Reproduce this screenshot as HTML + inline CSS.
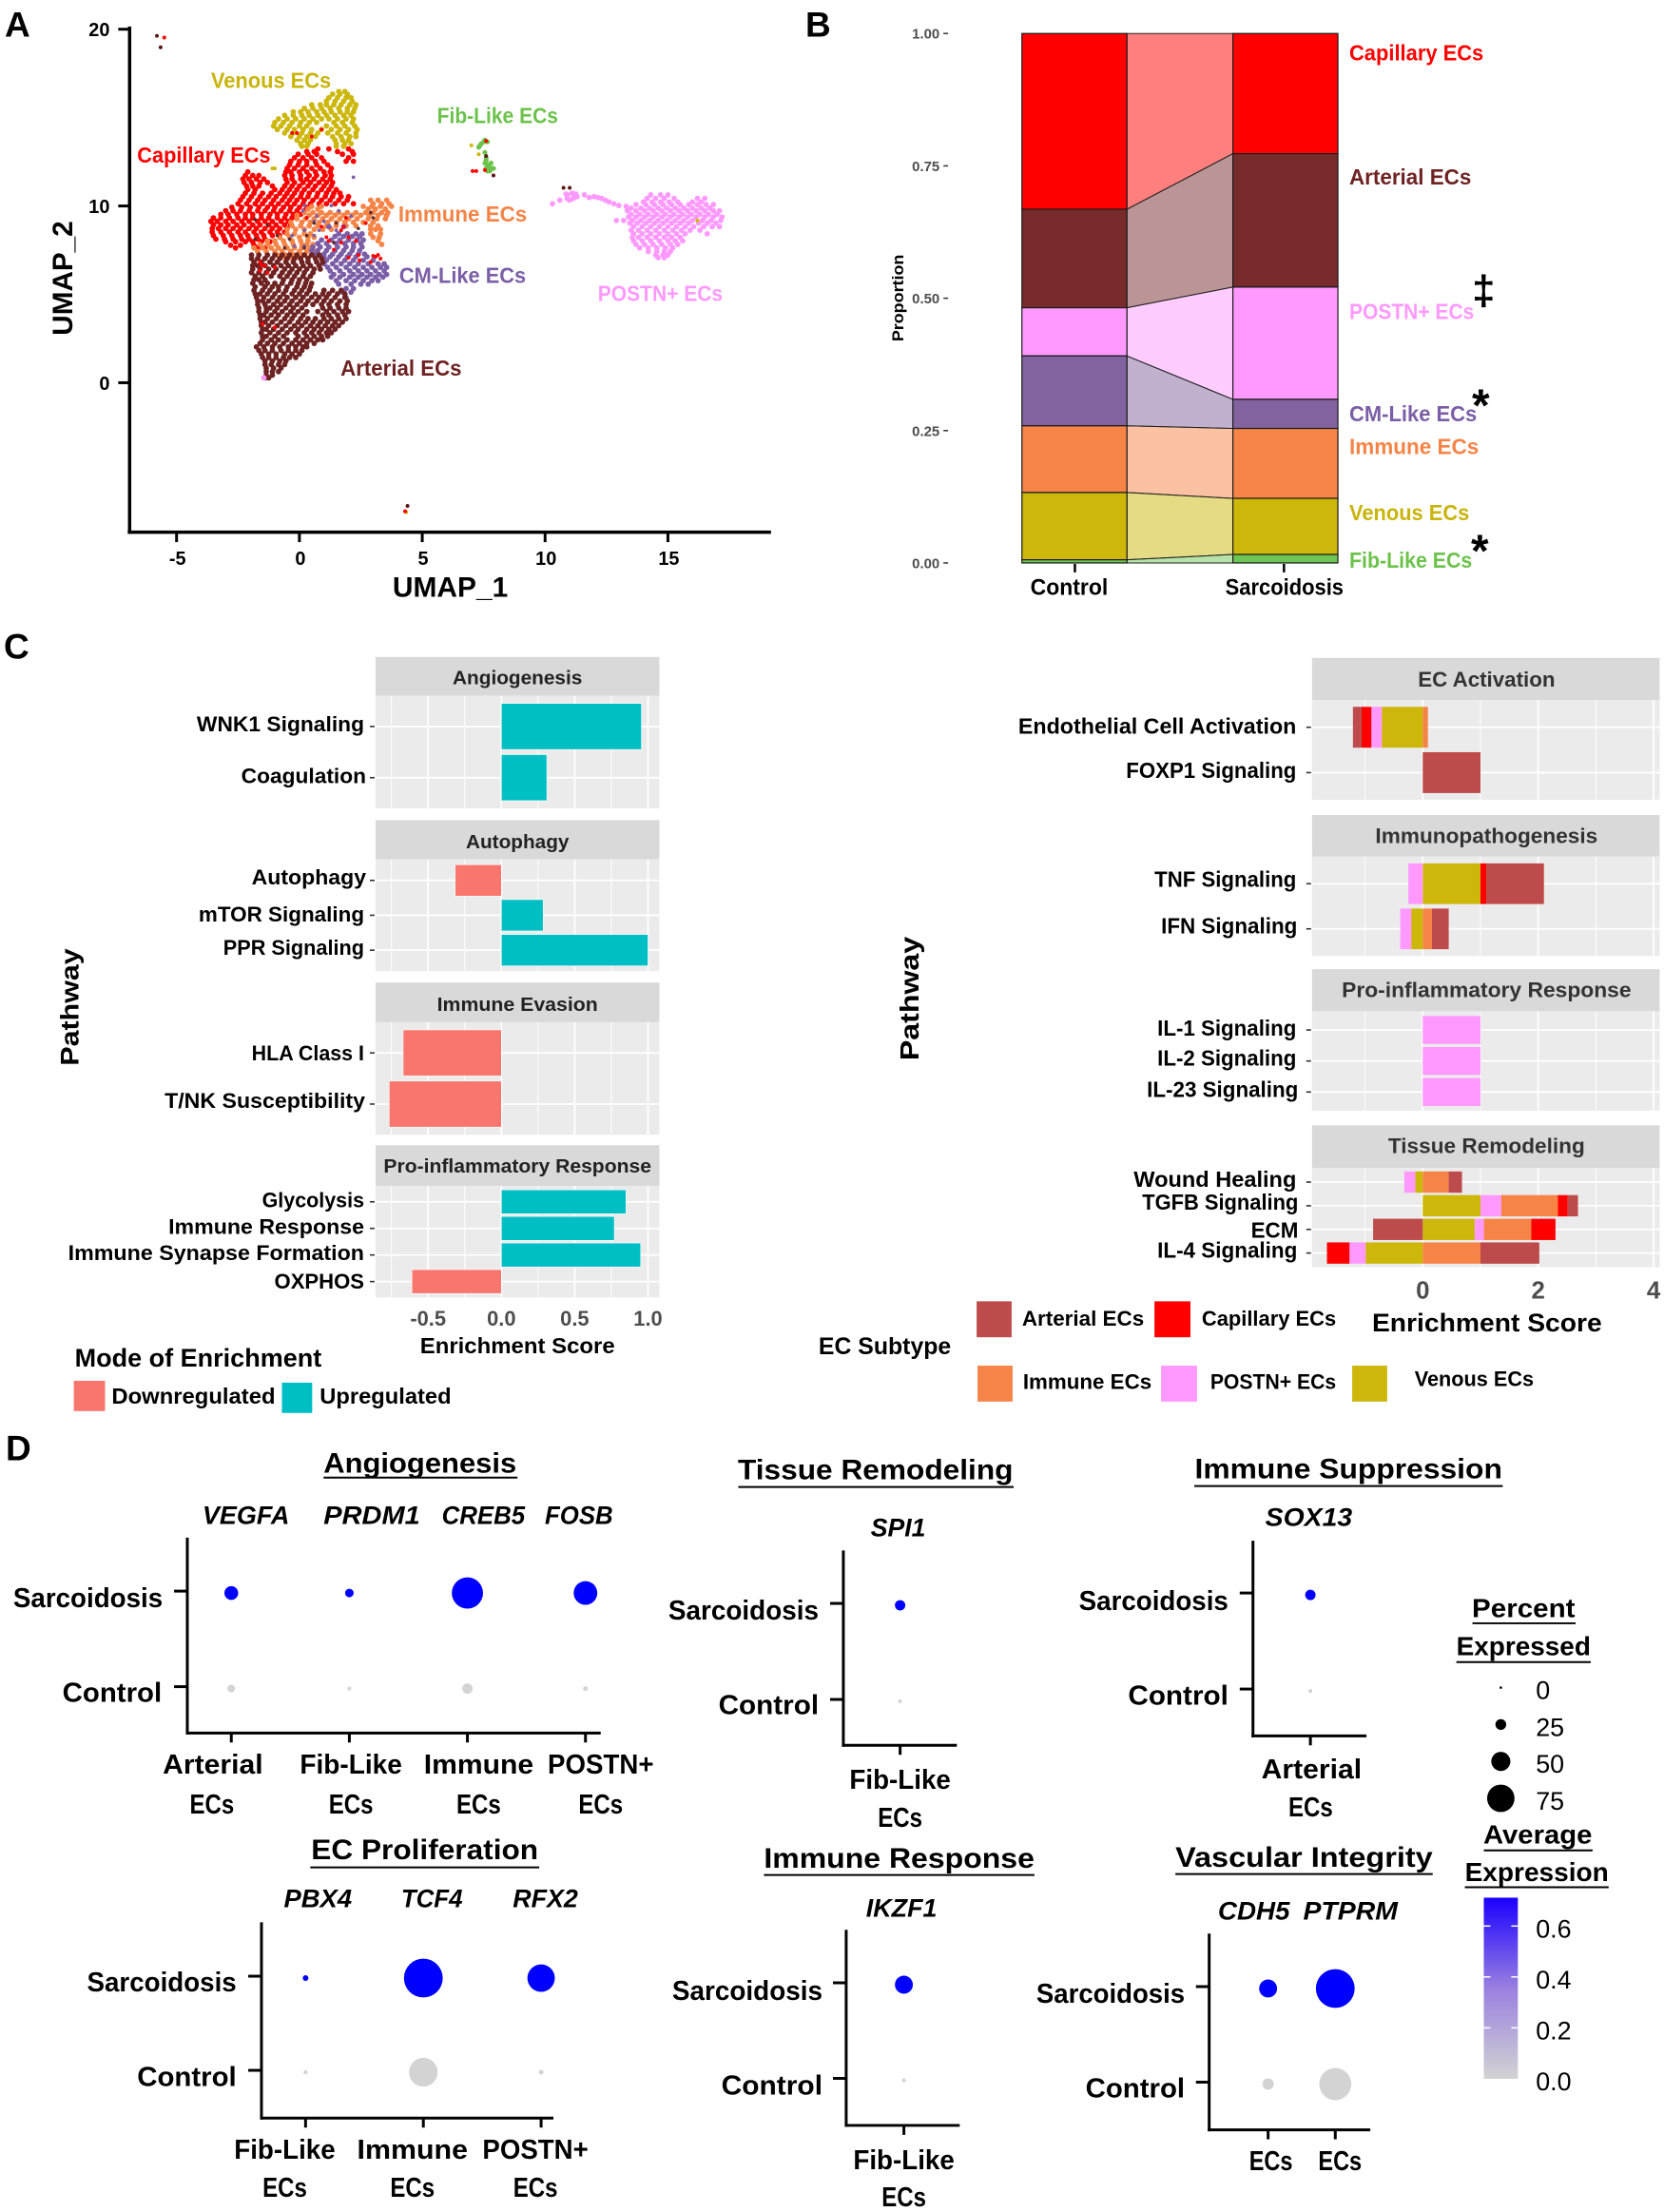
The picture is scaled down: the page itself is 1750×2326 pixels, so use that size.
<!DOCTYPE html>
<html lang="en">
<head>
<meta charset="utf-8">
<title>Endothelial cell subtype figure</title>
<style>
html,body{margin:0;padding:0;background:#fff}
svg{display:block}
text{font-family:"Liberation Sans",sans-serif;dominant-baseline:central;fill:#000}
.b{font-weight:700}
.i{font-weight:700;font-style:italic}
</style>
</head>
<body>
<svg id="figure" xmlns="http://www.w3.org/2000/svg" width="1750" height="2326" viewBox="0 0 1750 2326">
<defs>
<linearGradient id="expr-gradient" x1="0" y1="0" x2="0" y2="1"><stop offset="0" stop-color="#1a00ff"/><stop offset="0.5" stop-color="#9a80e0"/><stop offset="1" stop-color="#d3d3d3"/></linearGradient>
</defs>

<!-- Panel letters -->
<text class="b" x="5" y="26" font-size="37">A</text>
<text class="b" x="847" y="26" font-size="37">B</text>
<text class="b" x="4" y="680" font-size="37">C</text>
<text class="b" x="6" y="1523" font-size="37">D</text>

<!-- Panel A -->
<g id="panel-a" transform="scale(.9949)">
<g id="umap-marks"></g>
<text class="b" x="415" y="621" font-size="30" textLength="122">UMAP_1</text>
<text class="b" x="67" y="294" font-size="30" text-anchor="middle" textLength="121" transform="rotate(-90 67 294)">UMAP_2</text>
<text class="b" x="223" y="85" font-size="23" textLength="127" style="fill:#c9b40b">Venous ECs</text>
<text class="b" x="462" y="122" font-size="23" textLength="128" style="fill:#6cc24a">Fib-Like ECs</text>
<text class="b" x="145" y="164" font-size="23" textLength="141" style="fill:#ff0000">Capillary ECs</text>
<text class="b" x="421" y="226" font-size="23" textLength="136" style="fill:#f58446">Immune ECs</text>
<text class="b" x="422" y="291" font-size="23" textLength="134" style="fill:#7b5ea7">CM-Like ECs</text>
<text class="b" x="632" y="310" font-size="23" textLength="132" style="fill:#ff99ff">POSTN+ ECs</text>
<text class="b" x="360" y="389" font-size="23" textLength="128" style="fill:#6e2222">Arterial ECs</text>
</g>

<!-- Panel B -->
<g id="panel-b" transform="translate(830 0) scale(.9949) translate(-830 0)">
<g id="alluvial-marks"></g>
<text class="b" x="945" y="315" font-size="17" text-anchor="middle" textLength="92" transform="rotate(-90 945 315)">Proportion</text>
<text class="b" x="1085" y="621" font-size="24" textLength="82">Control</text>
<text class="b" x="1291" y="621" font-size="24" textLength="125">Sarcoidosis</text>
<text class="b" x="1422" y="56" font-size="23" textLength="142" style="fill:#ff0000">Capillary ECs</text>
<text class="b" x="1422" y="187" font-size="23" textLength="129" style="fill:#6e2222">Arterial ECs</text>
<text class="b" x="1422" y="329" font-size="23" textLength="132" style="fill:#ff99ff">POSTN+ ECs</text>
<text class="b" x="1422" y="437" font-size="23" textLength="135" style="fill:#7b5ea7">CM-Like ECs</text>
<text class="b" x="1422" y="472" font-size="23" textLength="137" style="fill:#f58446">Immune ECs</text>
<text class="b" x="1422" y="542" font-size="23" textLength="127" style="fill:#c9b40b">Venous ECs</text>
<text class="b" x="1422" y="592" font-size="23" textLength="130" style="fill:#6cc24a">Fib-Like ECs</text>
<text class="b" x="1564" y="307" font-size="44" text-anchor="middle">‡</text>
<text class="b" x="1561" y="429" font-size="48" text-anchor="middle">*</text>
<text class="b" x="1560" y="583" font-size="48" text-anchor="middle">*</text>
</g>

<!-- Panel C left -->
<g id="panel-c-left" transform="translate(0 660) scale(.9949) translate(0 -660)">
<g id="enrich-left-marks"></g>
<text class="b" x="74" y="1061" font-size="27" text-anchor="middle" textLength="124" transform="rotate(-90 74 1061)">Pathway</text>
<text class="b" x="547" y="714" font-size="20" text-anchor="middle" textLength="137" style="fill:#222">Angiogenesis</text>
<text class="b" x="547" y="887" font-size="20" text-anchor="middle" textLength="109" style="fill:#222">Autophagy</text>
<text class="b" x="547" y="1059" font-size="20" text-anchor="middle" textLength="170" style="fill:#222">Immune Evasion</text>
<text class="b" x="547" y="1230" font-size="20" text-anchor="middle" textLength="283" style="fill:#222">Pro-inflammatory Response</text>
<text class="b" x="385" y="762" font-size="22" text-anchor="end" textLength="177">WNK1 Signaling</text>
<text class="b" x="387" y="817" font-size="22" text-anchor="end" textLength="132">Coagulation</text>
<text class="b" x="387" y="924" font-size="22" text-anchor="end" textLength="121">Autophagy</text>
<text class="b" x="385" y="963" font-size="22" text-anchor="end" textLength="175">mTOR Signaling</text>
<text class="b" x="385" y="998" font-size="22" text-anchor="end" textLength="149">PPR Signaling</text>
<text class="b" x="385" y="1110" font-size="22" text-anchor="end" textLength="119">HLA Class I</text>
<text class="b" x="386" y="1160" font-size="22" text-anchor="end" textLength="212">T/NK Susceptibility</text>
<text class="b" x="385" y="1265" font-size="22" text-anchor="end" textLength="108">Glycolysis</text>
<text class="b" x="385" y="1293" font-size="22" text-anchor="end" textLength="207">Immune Response</text>
<text class="b" x="385" y="1321" font-size="22" text-anchor="end" textLength="313">Immune Synapse Formation</text>
<text class="b" x="385" y="1351" font-size="22" text-anchor="end" textLength="95">OXPHOS</text>
<text class="b" x="444" y="1419" font-size="23" textLength="206">Enrichment Score</text>
<text class="b" x="79" y="1432" font-size="27" textLength="261">Mode of Enrichment</text>
<rect x="78" y="1456" width="33" height="32" fill="#f8766d"/>
<text class="b" x="118" y="1472" font-size="23" textLength="173">Downregulated</text>
<rect x="298" y="1458" width="32" height="32" fill="#00bfc4"/>
<text class="b" x="338" y="1472" font-size="23" textLength="139">Upregulated</text>
</g>

<!-- Panel C right -->
<g id="panel-c-right" transform="translate(850 660) scale(.9949) translate(-850 -660)">
<g id="enrich-right-marks"></g>
<text class="b" x="957" y="1052" font-size="28" text-anchor="middle" textLength="131" transform="rotate(-90 957 1052)">Pathway</text>
<text class="b" x="1567" y="715" font-size="22" text-anchor="middle" textLength="145" style="fill:#333">EC Activation</text>
<text class="b" x="1567" y="880" font-size="22" text-anchor="middle" textLength="235" style="fill:#333">Immunopathogenesis</text>
<text class="b" x="1567" y="1043" font-size="22" text-anchor="middle" textLength="306" style="fill:#333">Pro-inflammatory Response</text>
<text class="b" x="1567" y="1208" font-size="22" text-anchor="middle" textLength="208" style="fill:#333">Tissue Remodeling</text>
<text class="b" x="1366" y="764" font-size="23" text-anchor="end" textLength="294">Endothelial Cell Activation</text>
<text class="b" x="1366" y="811" font-size="23" text-anchor="end" textLength="180">FOXP1 Signaling</text>
<text class="b" x="1366" y="926" font-size="23" text-anchor="end" textLength="150">TNF Signaling</text>
<text class="b" x="1367" y="975" font-size="23" text-anchor="end" textLength="144">IFN Signaling</text>
<text class="b" x="1366" y="1083" font-size="23" text-anchor="end" textLength="147">IL-1 Signaling</text>
<text class="b" x="1366" y="1115" font-size="23" text-anchor="end" textLength="147">IL-2 Signaling</text>
<text class="b" x="1368" y="1148" font-size="23" text-anchor="end" textLength="160">IL-23 Signaling</text>
<text class="b" x="1366" y="1243" font-size="23" text-anchor="end" textLength="172">Wound Healing</text>
<text class="b" x="1368" y="1267" font-size="23" text-anchor="end" textLength="165">TGFB Signaling</text>
<text class="b" x="1368" y="1297" font-size="23" text-anchor="end" textLength="50">ECM</text>
<text class="b" x="1367" y="1318" font-size="23" text-anchor="end" textLength="148">IL-4 Signaling</text>
<text class="b" x="1446" y="1395" font-size="27" textLength="243">Enrichment Score</text>
<text class="b" x="861" y="1420" font-size="25" textLength="140">EC Subtype</text>
<rect x="1028" y="1372" width="37" height="38" fill="#bd4b4b"/>
<text class="b" x="1076" y="1390" font-size="22" textLength="129">Arterial ECs</text>
<rect x="1216" y="1372" width="38" height="38" fill="#ff0000"/>
<text class="b" x="1266" y="1390" font-size="22" textLength="142">Capillary ECs</text>
<rect x="1029" y="1440" width="37" height="38" fill="#f58446"/>
<text class="b" x="1077" y="1457" font-size="22" textLength="136">Immune ECs</text>
<rect x="1223" y="1440" width="38" height="38" fill="#ff99ff"/>
<text class="b" x="1275" y="1457" font-size="22" textLength="133">POSTN+ ECs</text>
<rect x="1425" y="1440" width="37" height="38" fill="#ccb70a"/>
<text class="b" x="1491" y="1454" font-size="22" textLength="126">Venous ECs</text>
</g>

<!-- Panel D left -->
<g id="panel-d-left" transform="translate(0 1500) scale(.9949) translate(0 -1500)">
<g id="dot-marks-left"></g>
<text class="b" x="444" y="1539" font-size="30" text-anchor="middle" textLength="204">Angiogenesis</text>
<line x1="342" x2="547" y1="1554" y2="1554" stroke="#000" stroke-width="2"/>
<text class="b" x="449" y="1948" font-size="30" text-anchor="middle" textLength="240">EC Proliferation</text>
<line x1="328" x2="570" y1="1966" y2="1966" stroke="#000" stroke-width="2"/>
<text class="i" x="214" y="1594" font-size="27" textLength="92">VEGFA</text>
<text class="i" x="342" y="1594" font-size="27" textLength="102">PRDM1</text>
<text class="i" x="467" y="1594" font-size="27" textLength="88">CREB5</text>
<text class="i" x="576" y="1594" font-size="27" textLength="72">FOSB</text>
<text class="i" x="300" y="1999" font-size="27" textLength="72">PBX4</text>
<text class="i" x="424" y="1999" font-size="27" textLength="65">TCF4</text>
<text class="i" x="542" y="1999" font-size="27" textLength="69">RFX2</text>
<text class="b" x="172" y="1682" font-size="29" text-anchor="end" textLength="158">Sarcoidosis</text>
<text class="b" x="171" y="1782" font-size="29" text-anchor="end" textLength="105">Control</text>
<text class="b" x="250" y="2088" font-size="29" text-anchor="end" textLength="158">Sarcoidosis</text>
<text class="b" x="250" y="2188" font-size="29" text-anchor="end" textLength="105">Control</text>
<text class="b" x="225" y="1858" font-size="29" text-anchor="middle" textLength="106">Arterial</text>
<text class="b" x="224" y="1900" font-size="29" text-anchor="middle" textLength="47">ECs</text>
<text class="b" x="371" y="1858" font-size="29" text-anchor="middle" textLength="108">Fib-Like</text>
<text class="b" x="371" y="1900" font-size="29" text-anchor="middle" textLength="47">ECs</text>
<text class="b" x="506" y="1858" font-size="29" text-anchor="middle" textLength="116">Immune</text>
<text class="b" x="506" y="1900" font-size="29" text-anchor="middle" textLength="47">ECs</text>
<text class="b" x="635" y="1858" font-size="29" text-anchor="middle" textLength="112">POSTN+</text>
<text class="b" x="635" y="1900" font-size="29" text-anchor="middle" textLength="47">ECs</text>
<text class="b" x="301" y="2265" font-size="29" text-anchor="middle" textLength="107">Fib-Like</text>
<text class="b" x="301" y="2305" font-size="29" text-anchor="middle" textLength="47">ECs</text>
<text class="b" x="436" y="2265" font-size="29" text-anchor="middle" textLength="117">Immune</text>
<text class="b" x="436" y="2305" font-size="29" text-anchor="middle" textLength="47">ECs</text>
<text class="b" x="566" y="2265" font-size="29" text-anchor="middle" textLength="112">POSTN+</text>
<text class="b" x="566" y="2305" font-size="29" text-anchor="middle" textLength="47">ECs</text>
</g>

<!-- Panel D right -->
<g id="panel-d-right" transform="translate(680 1500) scale(.9949) translate(-680 -1500)">
<g id="dot-marks-right"></g>
<text class="b" x="922" y="1546" font-size="30" text-anchor="middle" textLength="291">Tissue Remodeling</text>
<line x1="777" x2="1068" y1="1564" y2="1564" stroke="#000" stroke-width="2"/>
<text class="b" x="1422" y="1545" font-size="30" text-anchor="middle" textLength="325">Immune Suppression</text>
<line x1="1259" x2="1585" y1="1563" y2="1563" stroke="#000" stroke-width="2"/>
<text class="b" x="947" y="1957" font-size="30" text-anchor="middle" textLength="286">Immune Response</text>
<line x1="804" x2="1090" y1="1974" y2="1974" stroke="#000" stroke-width="2"/>
<text class="b" x="1375" y="1956" font-size="30" text-anchor="middle" textLength="272">Vascular Integrity</text>
<line x1="1239" x2="1511" y1="1973" y2="1973" stroke="#000" stroke-width="2"/>
<text class="i" x="917" y="1607" font-size="27" textLength="58">SPI1</text>
<text class="i" x="1334" y="1596" font-size="27" textLength="92">SOX13</text>
<text class="i" x="912" y="2009" font-size="27" textLength="75">IKZF1</text>
<text class="i" x="1284" y="2012" font-size="27" textLength="76">CDH5</text>
<text class="i" x="1374" y="2012" font-size="27" textLength="100">PTPRM</text>
<text class="b" x="862" y="1695" font-size="29" text-anchor="end" textLength="159">Sarcoidosis</text>
<text class="b" x="862" y="1795" font-size="29" text-anchor="end" textLength="106">Control</text>
<text class="b" x="1295" y="1685" font-size="29" text-anchor="end" textLength="158">Sarcoidosis</text>
<text class="b" x="1295" y="1785" font-size="29" text-anchor="end" textLength="106">Control</text>
<text class="b" x="866" y="2097" font-size="29" text-anchor="end" textLength="159">Sarcoidosis</text>
<text class="b" x="866" y="2197" font-size="29" text-anchor="end" textLength="107">Control</text>
<text class="b" x="1249" y="2100" font-size="29" text-anchor="end" textLength="157">Sarcoidosis</text>
<text class="b" x="1249" y="2200" font-size="29" text-anchor="end" textLength="105">Control</text>
<text class="b" x="948" y="1874" font-size="29" text-anchor="middle" textLength="107">Fib-Like</text>
<text class="b" x="948" y="1914" font-size="29" text-anchor="middle" textLength="47">ECs</text>
<text class="b" x="1383" y="1863" font-size="29" text-anchor="middle" textLength="106">Arterial</text>
<text class="b" x="1382" y="1903" font-size="29" text-anchor="middle" textLength="47">ECs</text>
<text class="b" x="952" y="2276" font-size="29" text-anchor="middle" textLength="107">Fib-Like</text>
<text class="b" x="952" y="2315" font-size="29" text-anchor="middle" textLength="47">ECs</text>
<text class="b" x="1340" y="2277" font-size="29" text-anchor="middle" textLength="46">ECs</text>
<text class="b" x="1413" y="2277" font-size="29" text-anchor="middle" textLength="46">ECs</text>
<text class="b" x="1607" y="1692" font-size="28" text-anchor="middle" textLength="109">Percent</text>
<line x1="1553" x2="1662" y1="1708" y2="1708" stroke="#000" stroke-width="2"/>
<text class="b" x="1607" y="1732" font-size="28" text-anchor="middle" textLength="142">Expressed</text>
<line x1="1536" x2="1678" y1="1749" y2="1749" stroke="#000" stroke-width="2"/>
<text class="b" x="1622" y="1931" font-size="28" text-anchor="middle" textLength="115">Average</text>
<line x1="1565" x2="1680" y1="1948" y2="1948" stroke="#000" stroke-width="2"/>
<text class="b" x="1621" y="1971" font-size="28" text-anchor="middle" textLength="152">Expression</text>
<line x1="1545" x2="1697" y1="1987" y2="1987" stroke="#000" stroke-width="2"/>
<rect x="1565" y="1998" width="36" height="191.5" fill="url(#expr-gradient)"/>
<g id="legend-marks"></g>
</g>
</svg>

<script>
/* ---------- Panel A: UMAP cell positions (rows: y, then x values) ---------- */
const umapXTicks = [-5, 0, 5, 10, 15];
const umapYTicks = [0, 10, 20];
const capillaryRows = [
[13.2,.75,1.2,2.0],[13.05,.3,.6,1.55,2.15],[12.9,-.05,.35,.7,1.75,2.2],[12.7,-.2,.15,.5,.9,2.0],[12.5,-.35,0,.3,.65,1.0,1.9,2.2],[12.3,-.4,-.05,.3,.7,1.15],[12.1,-.5,-.2,.15,.5,.85,1.3],
[11.9,-2.1,-.55,-.35,0,.3,.65,1.0,1.25],[11.7,-2.2,-1.9,-1.65,-.6,-.3,.05,.4,.7,1.05,1.3],[11.5,-2.3,-2.05,-1.75,-1.45,-.55,-.3,.05,.3,.6,.95,1.25],[11.3,-2.25,-1.95,-1.6,-1.3,-.5,-.2,.15,.45,.8,1.1,1.35],
[11.1,-2.15,-1.9,-1.65,-1.1,-.6,-.3,0,.35,.65,1.0,1.3],[10.9,-2.1,-1.8,-1.0,-.7,-.4,-.1,.2,.55,.9,1.2,1.5],[10.7,-2.2,-1.85,-1.5,-1.15,-.8,-.5,-.2,.1,.4,.75,1.1,1.4,1.65],[10.5,-2.3,-1.95,-1.6,-1.25,-.95,-.6,-.3,.05,.35,.7,1.05,1.35,1.7,2.0],
[10.3,-2.4,-2.05,-1.7,-1.4,-1.05,-.7,-.4,-.1,.2,.55,.9,1.25,1.6,1.95],[10.1,-2.5,-2.15,-1.8,-1.5,-1.15,-.85,-.5,-.2,.15,.45,.8,1.1,1.45,1.8,2.2],[9.9,-2.75,-2.35,-2.0,-1.65,-1.3,-1,-.65,-.35,0,.3],[9.7,-3.0,-2.7,-2.4,-2.05,-1.7,-1.4,-1.05,-.75,-.4,-.1,.2],
[9.5,-3.2,-2.9,-2.55,-2.2,-1.9,-1.55,-1.2,-.9,-.55,-.25,.05],[9.3,-3.5,-3.2,-2.85,-2.5,-2.2,-1.9,-1.55,-1.25,-.9,-.6,-.3],[9.1,-3.6,-3.35,-3.0,-2.7,-2.35,-2.05,-1.7,-1.4,-1.1,-.75,-.45],[8.9,-3.5,-3.2,-2.9,-2.55,-2.25,-1.9,-1.6,-1.25,-.95,-.6,-.35],
[8.7,-3.55,-3.3,-3.0,-2.7,-2.4,-2.05,-1.75,-1.4,-1.1,-.8,-.5],[8.5,-3.55,-3.2,-2.85,-2.5,-2.2,-1.85,-1.55,-1.2,-.9,-.6],[8.3,-3.5,-3.1,-2.75,-2.4,-2.1,-1.75,-1.45,-1.1,-.8],[8.1,-3.4,-3.05,-2.7,-2.35,-2.05,-1.7,-1.4],[7.95,-3.0,-2.6,-2.2,-1.9,-1.55,-1.2],[7.75,-2.8,-2.4,-1.85],[7.6,-2.6,-1.7,-1.4]
];
const immuneRows = [
[10.3,2.9,3.2,3.55],[10.1,3.0,3.35,3.65],[9.95,.5,.9,2.6,2.95,3.3,3.75],[9.8,.35,.75,2.8,3.1,3.5],[9.6,.2,.55,.9,1.25,1.6,1.95,2.3,2.7,3.0,3.35,3.6],[9.45,-.1,.4,.75,1.1,1.45,1.8,2.15,2.5,2.85,3.2,3.55],
[9.25,-.1,.25,.6,.95,1.3,1.65,2.0,2.35,2.8,3.15,3.5],[9.05,-.35,.1,.45,.8,1.15,1.5,1.85,2.2,2.6,3.0],[8.85,-.3,.05,.4,.75,1.1,1.5,1.9,2.3,2.9,3.2],[8.65,-.5,-.15,.2,.6,.95,1.3,2.9,3.1,3.3],
[8.4,-.5,-.2,.2,.45,2.9,3.3],[8.2,-.8,-.4,0,.35,.6,3.0,3.25],[8.0,-1.3,-1.0,-.65,-.3,.05,.35,3.2],[7.8,-1.6,-1.3,-.95,-.6,-.25,.1,.3,.55,3.35],[7.6,-1.85,-1.5,-1.15,-.85,-.5,-.2,.1,.4],[7.4,-1.7,-1.35,-1.0,-.7,-.35,0,.3,.6],[7.2,-.9,-.55,-.2,.15,.5],[7.05,-.6,-.35,0,.35]
];
const cmLikeRows = [
[8.8,1.2,1.8],[8.4,1.6,1.95,2.3,2.55],[8.25,1.45,1.8,2.15,2.45],[8.05,.9,1.3,1.65,2.0,2.35,2.6],[7.85,.75,1.1,1.5,1.85,2.2,2.5],[7.65,.55,.85,1.2,1.55,1.9,2.2,2.55],[7.45,.5,.75,1.1,1.45,1.8,2.15,2.45],
[7.25,.6,1.0,1.35,1.7,2.05,2.4,2.65],[7.1,1.0,1.25,1.6,1.95,2.3,2.75],[6.9,1.1,1.5,1.85,2.2,2.6,3.0],[6.7,1.0,1.35,1.7,2.05,2.4,2.8,3.2,3.45],[6.5,1.15,1.5,1.9,2.25,2.6,2.95,3.3,3.55],[6.3,1.25,1.65,2.05,2.4,2.75,3.1,3.45],
[6.1,1.4,1.8,2.2,2.55,2.9,3.25,3.55],[5.95,1.3,1.65,2.05,2.4,2.75,3.1,3.4],[5.75,1.5,1.9,2.25,2.6,2.95,3.2],[5.55,1.6,2.1,2.5,2.8],[5.3,1.9,2.2],[5.1,1.75,2.1],[4.8,1.9]
];
const cmLikeSpeckRows = [[10.0,.2,1.3],[9.7,.15,1.6],[9.4,2.1,.7],[9.1,.6,1.0],[8.6,.2,.8,1.5],[8.3,-.3,.6],[7.7,-.2,.2],[11.6,2.2]];
const arterialRows = [
[7.2,-1.95,-1.65,-1.3,-1.0,-.7,-.4,-.1,.2,.5,.8],[7.0,-1.95,-1.7,-1.4,-1.1,-.8,-.5,-.2,.05,.35,.65,.9],[6.8,-1.85,-1.55,-1.2,-.9,-.55,-.25,.1,.35,.7,.95],[6.6,-1.9,-1.7,-1.4,-1.05,-.75,-.45,-.15,.15,.45,.8],[6.4,-1.9,-1.6,-1.25,-.95,-.6,-.3,0,.3,.6,.85],[6.2,-1.95,-1.65,-1.35,-1.05,-.7,-.4,-.1,.2,.55],
[6.0,-1.8,-1.5,-1.15,-.8,-.5,-.2,.15,.45],[5.8,-1.85,-1.65,-1.4,-.65,-.3,0,.3],[5.6,-1.9,-1.55,-1.3,-1.0,-.7,-.35,-.05,.25,.5],[5.4,-1.8,-1.4,-1.1,-.85,-.5,-.1,.2,.45],[5.2,-1.85,-1.5,-1.2,-.85,-.55,-.2,.1,.4,1.0,1.35,1.7],[5.0,-1.8,-1.6,-1.3,-1.0,-.65,-.3,0,.3,.65,.95,1.2,1.55,1.85],
[4.8,-1.75,-1.45,-1.1,-.8,-.5,-.15,.15,.5,.8,1.1,1.45,1.85],[4.6,-1.7,-1.5,-1.25,-.9,-.6,-.3,.05,.35,.7,1.0,1.3,1.65,1.95],[4.4,-1.7,-1.4,-1.05,-.75,-.4,-.1,.25,.55,.9,1.2,1.55,1.9],[4.2,-1.65,-1.35,-1.2,-.9,-.55,-.25,.1,.95,1.25,1.6,1.9],
[4.0,-1.65,-1.35,-1.0,-.7,-.35,-.05,.3,.75,1.1,1.4,1.75,2.0],[3.8,-1.6,-1.45,-1.15,-.85,-.5,-.2,.15,.95,1.2,1.55,1.85],[3.6,-1.6,-1.3,-.95,-.6,-.3,.05,.35,.65,1.0,1.3,1.6,1.9],[3.4,-1.55,-1.4,-1.1,-.75,-.4,-.05,.25,.55,.85,1.15,1.45,1.75],
[3.2,-1.55,-1.25,-.9,-.55,-.2,.1,.45,.75,1.05,1.35,1.6],[3.0,-1.5,-1.35,-1.05,-.7,-.35,-.05,.3,.6,.9,1.2,1.45],[2.8,-1.55,-1.2,-.85,-.5,-.15,.2,.5,.8,1.1,1.3],[2.6,-1.5,-1.35,-1.0,-.65,-.05,.3,.6,.9,1.15],[2.4,-1.5,-1.15,-.85,-.5,-.15,.15,.45,.75,.95],[2.2,-1.6,-1.3,-1.0,-.65,-.3,0,.3,.6],
[2.0,-1.75,-1.45,-1.1,-.8,-.45,-.15,.15,.3],[1.8,-1.65,-1.4,-1.1,-.75,-.45,-.15,.1],[1.6,-1.55,-1.25,-.95,-.6,-.3,0],[1.4,-1.5,-1.25,-.95,-.65,-.4,-.15],[1.2,-1.4,-1.1,-.8,-.55],[1.0,-1.4,-1.15,-.85,-.6],[.8,-1.35,-1.05,-.75],[.6,-1.35,-1.1,-.85],[.4,-1.35,-1.1],[.25,-1.4,-1.25]
];
const venousRows = [
[16.45,1.6,1.85],[16.3,1.35,1.65,1.95],[16.1,1.2,1.55,1.9,2.1],[15.9,1.1,1.45,1.8,2.15],[15.7,.5,.85,1.1,1.4,1.7,2.05,2.3],[15.5,.2,.55,.9,1.25,1.6,1.95,2.25],[15.3,-.25,.05,.35,.7,1.0,1.3,1.65,1.95,2.2],[15.1,-.6,-.25,.1,.4,.75,1.1,1.45,1.8,2.1],
[14.9,-.85,-.5,-.15,.2,.55,.9,1.2,1.55,1.9,2.2],[14.7,-1.0,-.65,-.3,.05,.4,.7,1.4,1.75,2.15],[14.5,-1.05,-.75,-.4,0,.3,1.1,1.5,1.85,2.25],[14.3,-.9,-.5,-.2,.15,.5,.9,1.3,1.65,2.0,2.35],[14.1,-.6,-.25,.1,.45,.75,1.15,1.55,1.9,2.3],[13.9,-.35,0,.3,.65,1.35,1.7,2.05,2.3],[13.7,-.1,.2,.45,1.45,1.75,2.0],[13.5,.05,.35,1.5,1.85,2.1],[13.35,.1,.3,1.5,1.8]
];
const venousStrayRows = [[13.4,7.0],[12.9,7.3],[12.1,-1.0,-1.1],[-7.35,4.35],[9.15,16.2]];
const postnRows = [
[10.7,11.1],[10.65,10.85,11.25],[10.6,10.9,11.6,14.3,14.7,15.0],[10.5,11.3,12.0],[10.45,11.8,12.15],[10.4,12.3,10.9,11.15,14.15,14.5,14.85,15.25,16.2,16.5],[10.3,10.6,11.0,12.45],[10.2,12.6,14.0,14.35,14.7,15.05,15.4,16.0,16.35],[10.1,10.3,12.8],[10.05,13.7,14.1,14.45,14.8,15.15,15.5,15.85,16.2,16.55,16.85],[10.0,13.0],[9.95,13.3],
[9.85,13.5,13.9,14.25,14.6,14.95,15.3,15.65,16.0,16.35,16.7],[9.7,13.35,13.7,14.05,14.4,14.75,15.1,15.45,15.8,16.15,16.5,16.85,17.1],[9.5,13.5,13.85,14.2,14.55,14.9,15.25,15.6,15.95,16.3,16.65,17.0],[9.35,13.4,13.7,14.05,14.4,14.75,15.1,15.45,15.8,16.15,16.5,16.85,17.2],
[9.15,12.9,13.2,13.55,13.9,14.25,14.6,14.95,15.3,15.65,16.0,16.4,16.75,17.15],[9.0,13.45,13.75,14.1,14.45,14.8,15.15,15.5,15.85,16.25,16.6,16.95],[8.8,13.6,13.95,14.3,14.65,15.0,15.35,15.7,16.05,16.45,16.8,17.1],[8.6,13.5,13.8,14.15,14.5,14.85,15.2,15.55,15.9,16.3],
[8.4,13.6,13.95,14.3,14.65,15.0,15.35,15.7,16.6],[8.2,13.55,13.8,14.15,14.5,14.85,15.15,15.5],[8.0,13.6,13.95,14.3,14.65,15.0,15.3,15.6],[7.8,13.7,14.05,14.4,14.75,15.1,15.4],[7.6,13.85,14.2,14.55,14.9,15.2],[7.4,14.2,14.55,14.85,15.1],[7.2,14.5,14.8,15.0],[7.05,14.6,14.85],[.25,-1.45]
];
const fibLikeRows = [[13.7,7.55],[13.6,7.5,7.65],[13.5,7.4],[13.4,7.35],[13.3,7.3],[13.0,7.55],[12.7,7.6],[12.55,7.6],[12.4,7.55,7.8],[12.3,7.65],[12.2,7.7],[12.1,7.6,7.85,7.9],[11.95,7.65,7.75]];
const capillaryStrayRows = [[19.5,-5.5],[14.3,.9],[14.1,-.3,-.1],[13.9,.5],[13.65,7.6],[12.0,7.55],[11.95,7.05,7.2],[9.0,2.7],[8.6,1.7],[8.2,1.1,2.0],[8.0,1.2,2.3],[7.9,1.7],[7.5,1.4],[7.2,2.4,3.2],[7.15,3.0],[7.1,3.1],[7.05,2.0],[7.0,3.3],[6.9,2.45],[6.8,2.9,-1.6],[6.6,-1.55,-1.4],[6.5,-1.0],[6.3,-1.6],[6.2,-1.3],[3.3,-1.5],[3.1,-1.0],[9.3,.3,1.9],[8.8,.9,1.8],[-7.3,4.3]];
const arterialStrayRows = [[19.6,-5.8],[18.95,-5.65],[12.8,7.6],[11.7,7.9],[11.0,10.75,11.0],[-7.0,4.4]];
const arterialSpeckRows = [[9.6,2.9],[9.3,3.0],[9.0,.6,1.5],[8.7,2.4],[8.3,-.9,.3],[8.1,-1.8,-.4],[7.6,-.6,.2],[7.9,1.4],[8.9,-1.3],[9.2,-1.8]];

/* ---------- Panel B: stacked proportions, top to bottom ---------- */
const alluvialSubtypes = ["Capillary ECs","Arterial ECs","POSTN+ ECs","CM-Like ECs","Immune ECs","Venous ECs","Fib-Like ECs"];
const controlProportions = [.332,.186,.091,.132,.126,.127,.006];
const sarcoidosisProportions = [.227,.252,.212,.055,.132,.106,.016];
const proportionTicks = [0,.25,.5,.75,1];

/* ---------- Panel C left: enrichment score by mode ---------- */
const leftScoreTicks = [-.5,0,.5,1];
const leftMinorTicks = [-.75,-.25,.25,.75];
const angiogenesisScores = [.955,.31];
const autophagyScores = [-.315,.285,1.0];
const immuneEvasionScores = [-.67,-.765];
const proInflammatoryScores = [.85,.77,.95,-.61];

/* ---------- Panel C right: enrichment score by subtype ---------- */
const rightScoreTicks = [0,2,4];
const rightMinorTicks = [-1,1,3];
const venousScores =    [-.71,0,1,-.2,0,0,0,-.13,1,.9,-.99];
const postnScores =     [-.18,0,-.25,-.19,1,1,1,-.19,.36,.16,-.28];
const immuneScores =    [.09,0,0,.16,0,0,0,.45,.98,.82,1];
const capillaryScores = [-.17,0,.1,0,0,0,0,0,.17,.42,-.39];
const arterialScores =  [-.15,1,1,.29,0,0,0,.23,.18,-.86,1.02];

/* ---------- Panel D: percent expressed per gene ---------- */
const groupExpression = [0.7, 0];
const angiogenesisSarcoidosisPercent = [31.5,17.5,77.5,57.5];
const angiogenesisControlPercent = [15,5,22.5,7.5];
const proliferationSarcoidosisPercent = [10,97.5,67.5];
const proliferationControlPercent = [6,71,7.5];
const tissueSarcoidosisPercent = [22.5];
const tissueControlPercent = [5];
const suppressionSarcoidosisPercent = [22.5];
const suppressionControlPercent = [5];
const responseSarcoidosisPercent = [42.5];
const responseControlPercent = [5];
const vascularSarcoidosisPercent = [42.5,97.5];
const vascularControlPercent = [25,80];
const percentLegendValues = [0,25,50,75];
const expressionTicks = [0,.2,.4,.6];

/* ---------- helpers ---------- */
const NS = "http://www.w3.org/2000/svg";
function mk(parent, tag, attrs, txt) {
  const el = document.createElementNS(NS, tag);
  for (const k in attrs) el.setAttribute(k, attrs[k]);
  if (txt !== undefined) el.textContent = txt;
  parent.appendChild(el);
  return el;
}
document.querySelectorAll("text[textLength]").forEach(function (t) { t.setAttribute("lengthAdjust", "spacingAndGlyphs"); });

/* ---------- Panel A ---------- */
(function () {
  const g = document.getElementById("umap-marks");
  const X = function (v) { return 316.5 + 25.97 * v; };
  const Y = function (v) { return 404 - 18.68 * v; };
  function cloud(rows, color, name, r) {
    rows.forEach(function (row) {
      row.slice(1).forEach(function (x) {
        const el = mk(g, "circle", { cx: X(x), cy: Y(row[0]), r: r, fill: color });
        
        
      });
    });
  }
  cloud(capillaryRows, "#ff0000", "capillary-cell", 2.9);
  cloud(immuneRows, "#f58446", "immune-cell", 2.9);
  cloud(cmLikeRows, "#7b5ea7", "cm-like-cell", 2.9);
  cloud(cmLikeSpeckRows, "#7b5ea7", "cm-like-speck", 1.9);
  cloud(arterialRows, "#6e2222", "arterial-cell", 2.9);
  cloud(venousRows, "#ccb70a", "venous-cell", 2.9);
  cloud(postnRows, "#ff99ff", "postn-cell", 2.9);
  cloud(fibLikeRows, "#6cc24a", "fib-like-cell", 2.6);
  cloud(venousStrayRows, "#ccb70a", "venous-stray-cell", 2);
  cloud(capillaryStrayRows, "#ff0000", "capillary-stray-cell", 2);
  cloud(arterialStrayRows, "#5a1414", "arterial-stray-cell", 2);
  cloud(arterialSpeckRows, "#5a2a2a", "arterial-speck", 1.8);

  const yAxis = mk(g, "line", { x1: 137, x2: 137, y1: 28, y2: 564, stroke: "#000", "stroke-width": 3.5 });
  
  
  const xAxis = mk(g, "line", { x1: 135, x2: 815, y1: 562.5, y2: 562.5, stroke: "#000", "stroke-width": 3.5 });
  
  
  umapYTicks.forEach(function (v) {
    const t = mk(g, "line", { x1: 125, x2: 137, y1: Y(v) + .5, y2: Y(v) + .5, stroke: "#000", "stroke-width": 3 });
    
    
    const l = mk(g, "text", { x: 116, y: Y(v) + 2, "text-anchor": "end", "font-size": 20, "class": "b" }, String(v));
    
    
  });
  umapXTicks.forEach(function (v) {
    const t = mk(g, "line", { x1: X(v), x2: X(v), y1: 562, y2: 573, stroke: "#000", "stroke-width": 3 });
    
    
    const l = mk(g, "text", { x: X(v) + 1, y: 591, "text-anchor": "middle", "font-size": 20, "class": "b" }, String(v));
    
    
  });
})();

/* ---------- Panel B ---------- */
(function () {
  const g = document.getElementById("alluvial-marks");
  const colors = ["#ff0000","#772b2b","#ff99ff","#8263a0","#f58446","#ccb70a","#6dc554"];
  const Y = function (v) { return 595 - 559.6 * v; };
  const L = [1076, 1187], R = [1299, 1410];
  let topC = controlProportions.reduce(function (a, b) { return a + b; }, 0);
  let topS = sarcoidosisProportions.reduce(function (a, b) { return a + b; }, 0);
  alluvialSubtypes.forEach(function (name, i) {
    const botC = topC - controlProportions[i], botS = topS - sarcoidosisProportions[i];
    const flow = mk(g, "polygon", { points: [L[1], Y(topC), R[0], Y(topS), R[0], Y(botS), L[1], Y(botC)].join(" "), fill: colors[i], "fill-opacity": .5, stroke: "#222", "stroke-width": 1 });
    
    
    const a = mk(g, "rect", { x: L[0], y: Y(topC), width: L[1] - L[0], height: Y(botC) - Y(topC), fill: colors[i], stroke: "#1a1a1a", "stroke-width": 1.2 });
    
    
    const b = mk(g, "rect", { x: R[0], y: Y(topS), width: R[1] - R[0], height: Y(botS) - Y(topS), fill: colors[i], stroke: "#1a1a1a", "stroke-width": 1.2 });
    
    
    topC = botC; topS = botS;
  });
  proportionTicks.forEach(function (v) {
    const t = mk(g, "line", { x1: 993, x2: 998, y1: Y(v), y2: Y(v), stroke: "#333", "stroke-width": 1.5 });
    
    
    const l = mk(g, "text", { x: 989, y: Y(v) + 1, "text-anchor": "end", "font-size": 15, "class": "b", style: "fill:#4d4d4d" }, v.toFixed(2));
    
    
  });
  [1132, 1353].forEach(function (x) {
    const t = mk(g, "line", { x1: x, x2: x, y1: 596, y2: 605, stroke: "#000", "stroke-width": 2.5 });
    
    
  });
})();

/* ---------- Panel C shared facet drawing ---------- */
function facetFrame(g, left, right, stripTop, top, bottom, n, major, minor, X) {
  const strip = mk(g, "rect", { x: left, y: stripTop, width: right - left, height: top - stripTop, fill: "#d9d9d9" });
  
  
  const bg = mk(g, "rect", { x: left, y: top, width: right - left, height: bottom - top, fill: "#ebebeb" });
  
  
  minor.forEach(function (v) {
    const l = mk(g, "line", { x1: X(v), x2: X(v), y1: top, y2: bottom, stroke: "#fff", "stroke-width": 1 });
    
    
  });
  major.forEach(function (v) {
    const l = mk(g, "line", { x1: X(v), x2: X(v), y1: top, y2: bottom, stroke: "#fff", "stroke-width": 1.8 });
    
    
  });
  const unit = (bottom - top) / (n - 1 + 1.2);
  const band = function (i) { return top + (0.6 + i) * unit; };
  for (let i = 0; i < n; i++) {
    const l = mk(g, "line", { x1: left, x2: right, y1: band(i), y2: band(i), stroke: "#fff", "stroke-width": 1.8 });
    
    
    const t = mk(g, "line", { x1: left - 6, x2: left - 1, y1: band(i), y2: band(i), stroke: "#333", "stroke-width": 1.6 });
    
    
  }
  return { band: band, barH: unit * 0.9 };
}

/* ---------- Panel C left ---------- */
(function () {
  const g = document.getElementById("enrich-left-marks");
  const X = function (v) { return 530 + 155 * v; };
  function facet(stripTop, top, bottom, scores) {
    const f = facetFrame(g, 397, 697, stripTop, top, bottom, scores.length, leftScoreTicks, leftMinorTicks, X);
    scores.forEach(function (v, i) {
      const bar = mk(g, "rect", { x: Math.min(X(0), X(v)), y: f.band(i) - f.barH / 2, width: Math.abs(X(v) - X(0)), height: f.barH, fill: v < 0 ? "#f8766d" : "#00bfc4", stroke: "#fff", "stroke-width": .6 });
      
      
    });
  }
  facet(691, 732, 851, angiogenesisScores);
  facet(863.5, 905, 1023, autophagyScores);
  facet(1035, 1077, 1196, immuneEvasionScores);
  facet(1207, 1250, 1368, proInflammatoryScores);
  leftScoreTicks.forEach(function (v) {
    const l = mk(g, "text", { x: X(v), y: 1390, "text-anchor": "middle", "font-size": 22, "class": "b", style: "fill:#4d4d4d" }, v.toFixed(1));
    
    
  });
})();

/* ---------- Panel C right ---------- */
(function () {
  const g = document.getElementById("enrich-right-marks");
  const X = function (v) { return 1499.6 + 61 * v; };
  const stack = [
    { values: venousScores, color: "#ccb70a", name: "venous-segment" },
    { values: postnScores, color: "#ff99ff", name: "postn-segment" },
    { values: immuneScores, color: "#f58446", name: "immune-segment" },
    { values: capillaryScores, color: "#ff0000", name: "capillary-segment" },
    { values: arterialScores, color: "#bd4b4b", name: "arterial-segment" }
  ];
  function facet(stripTop, top, bottom, first, n) {
    const f = facetFrame(g, 1382.5, 1750, stripTop, top, bottom, n, rightScoreTicks, rightMinorTicks, X);
    for (let i = 0; i < n; i++) {
      let pos = 0, neg = 0;
      stack.forEach(function (s) {
        const v = s.values[first + i];
        if (!v) return;
        const a = v > 0 ? pos : neg;
        const b = a + v;
        if (v > 0) pos = b; else neg = b;
        const seg = mk(g, "rect", { x: Math.min(X(a), X(b)), y: f.band(i) - f.barH / 2, width: Math.abs(X(b) - X(a)), height: f.barH, fill: s.color });
        
        
      });
    }
  }
  facet(692, 736.5, 842, 0, 2);
  facet(858, 902, 1007, 2, 2);
  facet(1021, 1065.5, 1170.5, 4, 3);
  facet(1186, 1231, 1336, 7, 4);
  rightScoreTicks.forEach(function (v) {
    const l = mk(g, "text", { x: X(v), y: 1361, "text-anchor": "middle", "font-size": 26, "class": "b", style: "fill:#4d4d4d" }, String(v));
    
    
  });
})();

/* ---------- Panel D ---------- */
(function () {
  const gl = document.getElementById("dot-marks-left");
  const gr = document.getElementById("dot-marks-right");
  const radius = function (p) { return 1 + 0.2 * p; };
  const exprColor = function (e) {
    const t = e / 0.7;
    const c = function (a, b) { return Math.round(a + (b - a) * t); };
    return "rgb(" + c(211, 0) + "," + c(211, 0) + "," + c(211, 255) + ")";
  };
  function panel(g, left, right, top, bottom, xFirst, xStep, yFirst, yStep, sarcoidosis, control) {
    const X = function (i) { return xFirst + i * xStep; };
    const Y = function (i) { return yFirst + i * yStep; };
    const ya = mk(g, "line", { x1: left, x2: left, y1: top, y2: bottom + 1.5, stroke: "#000", "stroke-width": 3 });
    
    
    const xa = mk(g, "line", { x1: left - 1.5, x2: right, y1: bottom, y2: bottom, stroke: "#000", "stroke-width": 3 });
    
    
    [0, 1].forEach(function (i) {
      const t = mk(g, "line", { x1: left - 14, x2: left, y1: Y(i), y2: Y(i), stroke: "#000", "stroke-width": 3 });
      
      
    });
    sarcoidosis.forEach(function (p, i) {
      const t = mk(g, "line", { x1: X(i), x2: X(i), y1: bottom, y2: bottom + 10, stroke: "#000", "stroke-width": 3 });
      
      
      const s = mk(g, "circle", { cx: X(i), cy: Y(0) + 2, r: radius(p), fill: exprColor(groupExpression[0]) });
      
      
      const c = mk(g, "circle", { cx: X(i), cy: Y(1) + 2, r: radius(control[i]), fill: exprColor(groupExpression[1]) });
      
      
    });
  }
  panel(gl, 198, 635, 1617.5, 1824, 244.5, 124.8, 1674, 101, angiogenesisSarcoidosisPercent, angiogenesisControlPercent);
  panel(gl, 276.4, 585, 2024, 2231, 323, 124.5, 2081, 99.5, proliferationSarcoidosisPercent, proliferationControlPercent);
  panel(gr, 888, 1008, 1631, 1837, 948, 0, 1687, 101.5, tissueSarcoidosisPercent, tissueControlPercent);
  panel(gr, 1321, 1441, 1620.7, 1827, 1381.7, 0, 1676, 101.5, suppressionSarcoidosisPercent, suppressionControlPercent);
  panel(gr, 891, 1011, 2032, 2238.7, 952, 0, 2088, 101, responseSarcoidosisPercent, responseControlPercent);
  panel(gr, 1274.7, 1445, 2036, 2243.4, 1337, 71, 2092, 101, vascularSarcoidosisPercent, vascularControlPercent);

  /* Percent-expressed legend */
  const lg = document.getElementById("legend-marks");
  const legendR = function (p) { return 1.3 + 0.176 * p; };
  const legendY = function (i) { return 1776 + i * 39; };
  percentLegendValues.forEach(function (p, i) {
    const d = mk(lg, "circle", { cx: 1583, cy: legendY(i), r: legendR(p), fill: "#000" });
    
    
    const l = mk(lg, "text", { x: 1620, y: legendY(i) + 3, "font-size": 27 }, String(p));
    
    
  });

  /* Colorbar ticks */
  const CY = function (v) { return 2189.4 - 269 * v; };
  expressionTicks.forEach(function (v) {
    if (v > 0) {
      const a = mk(lg, "line", { x1: 1565, x2: 1572, y1: CY(v), y2: CY(v), stroke: "#fff", "stroke-width": 1.5 });
      
      
      const b = mk(lg, "line", { x1: 1594, x2: 1601, y1: CY(v), y2: CY(v), stroke: "#fff", "stroke-width": 1.5 });
      
      
    }
    const l = mk(lg, "text", { x: 1620, y: CY(v) + 3, "font-size": 27 }, v.toFixed(1));
    
    
  });
})();
</script>
</body>
</html>
